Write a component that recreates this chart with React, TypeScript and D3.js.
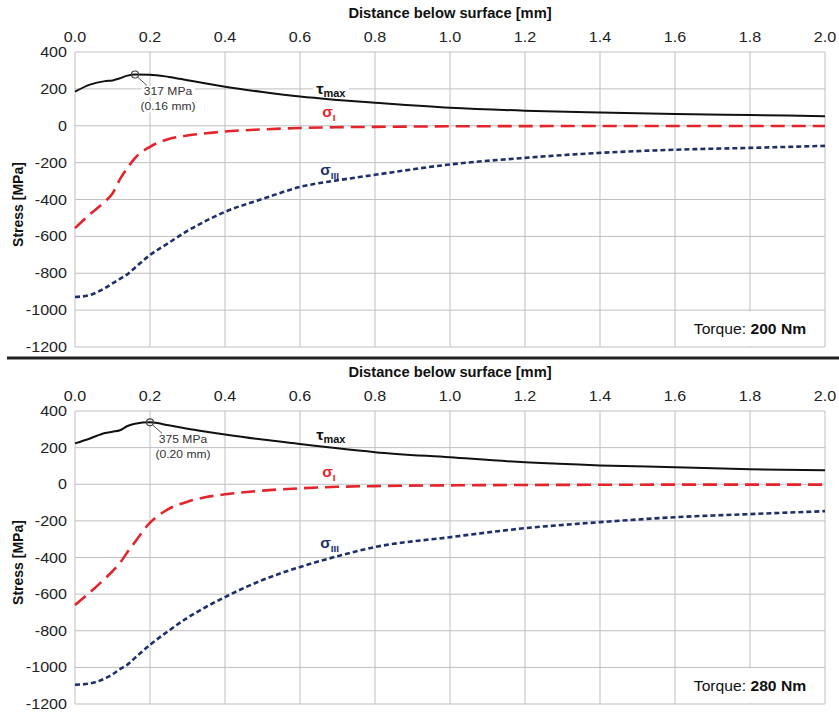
import { useEffect, useRef } from 'react';
import * as d3 from 'd3';

// depth grid [mm] shared by all series
const depth = [0, 0.04, 0.08, 0.1, 0.12, 0.14, 0.16, 0.2, 0.25, 0.3, 0.35, 0.4, 0.5, 0.6, 0.7, 0.8, 1.0, 1.2, 1.4, 1.6, 1.8, 2.0];

// Torque 200 Nm
const tauMax200 = [185, 223, 242, 246, 258, 272, 278, 277, 265, 247, 229, 212, 183, 158, 140, 125, 98, 82, 72, 64, 58, 52];
const sigmaI200 = [-555, -480, -410, -368, -290, -228, -175, -114, -72, -53, -41, -31, -20, -12, -8, -6, -3, -2, -1, -1, -1, -1];
const sigmaIII200 = [-929, -918, -880, -855, -830, -805, -770, -701, -635, -570, -515, -467, -397, -332, -296, -266, -210, -174, -147, -130, -120, -109];

// Torque 280 Nm
const tauMax280 = [223, 250, 280, 287, 295, 318, 330, 338, 322, 303, 287, 272, 244, 220, 196, 175, 147, 120, 103, 93, 82, 76];
const sigmaI280 = [-660, -590, -515, -475, -430, -370, -315, -210, -135, -95, -70, -55, -35, -22, -14, -10, -6, -4, -3, -2, -2, -2];
const sigmaIII280 = [-1095, -1088, -1060, -1038, -1010, -985, -948, -877, -800, -729, -669, -616, -523, -452, -393, -343, -289, -240, -207, -180, -163, -147];

const torques = [200, 280];
const peakLabels = ['317 MPa', '375 MPa'];
const peakDepthLabels = ['(0.16 mm)', '(0.20 mm)'];

const xTicks = [0, 0.2, 0.4, 0.6, 0.8, 1.0, 1.2, 1.4, 1.6, 1.8, 2.0];
const yTicks = [400, 200, 0, -200, -400, -600, -800, -1000, -1200];

const FONT = '"Liberation Sans", Arial, sans-serif';
const W = 839;
const H = 713;

const panels = [
  {
    top: 52, bottom: 347, torque: torques[0], tau: tauMax200, s1: sigmaI200, s3: sigmaIII200,
    peak: peakLabels[0], peakDepth: peakDepthLabels[0],
    labels: { tau: 196, s1: 71, s3: -239 }
  },
  {
    top: 411, bottom: 704, torque: torques[1], tau: tauMax280, s1: sigmaI280, s3: sigmaIII280,
    peak: peakLabels[1], peakDepth: peakDepthLabels[1],
    labels: { tau: 267, s1: 65, s3: -322 }
  }
];

// texte légèrement étiré horizontalement comme dans l'original
function stretchText(parent: any, x: number, y: number, s = 1.15) {
  return parent.append('text')
    .attr('transform', `translate(${x},${y}) scale(${s},1)`)
    .attr('font-family', FONT);
}

// fond blanc derrière un texte (dans le calque du dessous)
function addBg(layer: any, node: any, pad = 1, shrink = 0) {
  const b = node.node().getBBox();
  layer.append('rect')
    .attr('transform', node.attr('transform'))
    .attr('x', b.x - pad).attr('y', b.y + shrink)
    .attr('width', b.width + pad * 2).attr('height', b.height - shrink * 2)
    .attr('fill', '#fff');
}

function drawPanel(svg: any, p: any) {
  const x = d3.scaleLinear().domain([0, 2]).range([75, 825]);
  const y = d3.scaleLinear().domain([-1200, 400]).range([p.bottom, p.top]);
  const g = svg.append('g');
  const gGrid = g.append('g');
  const gBg = g.append('g');
  const gLines = g.append('g');
  const gText = g.append('g');

  // grille
  gGrid.selectAll('.vg').data(xTicks).join('line')
    .attr('x1', (d: number) => x(d)).attr('x2', (d: number) => x(d))
    .attr('y1', p.top).attr('y2', p.bottom)
    .attr('stroke', '#bfbfbf').attr('stroke-width', 1);
  gGrid.selectAll('.hg').data(yTicks).join('line')
    .attr('x1', x(0)).attr('x2', x(2))
    .attr('y1', (d: number) => y(d)).attr('y2', (d: number) => y(d))
    .attr('stroke', '#bfbfbf').attr('stroke-width', 1);

  // ticks
  xTicks.forEach(t => {
    stretchText(gText, x(t), p.top - 10).attr('text-anchor', 'middle')
      .attr('font-size', 14).attr('fill', '#222').text(t.toFixed(1));
  });
  yTicks.forEach(t => {
    stretchText(gText, 67, y(t)).attr('text-anchor', 'end').attr('dy', '0.36em')
      .attr('font-size', 14).attr('fill', '#222').text(String(t));
  });

  // titres
  stretchText(gText, (x(0) + x(2)) / 2, p.top - 34, 1.05).attr('text-anchor', 'middle')
    .attr('font-size', 14).attr('font-weight', 'bold').attr('fill', '#111')
    .text('Distance below surface [mm]');
  gText.append('text')
    .attr('transform', `translate(23,${(p.top + p.bottom) / 2 + 5}) rotate(-90)`)
    .attr('text-anchor', 'middle').attr('font-family', FONT)
    .attr('font-size', 14).attr('font-weight', 'bold').attr('fill', '#111')
    .text('Stress [MPa]');

  // boîte couple
  gBg.append('rect')
    .attr('x', x(1.6) + 1).attr('y', y(-1000) + 1)
    .attr('width', x(2) - x(1.6) - 2).attr('height', y(-1200) - y(-1000) - 2)
    .attr('fill', '#fff');
  const tq = stretchText(gText, (x(1.6) + x(2)) / 2, (y(-1000) + y(-1200)) / 2, 1.12)
    .attr('text-anchor', 'middle').attr('dy', '0.36em').attr('font-size', 14).attr('fill', '#111');
  tq.append('tspan').text('Torque: ');
  tq.append('tspan').attr('font-weight', 'bold').text(`${p.torque} Nm`);

  const line = (vals: number[]) => d3.line<number>()
    .x((_, i) => x(depth[i]))
    .y(d => y(d))
    .curve(d3.curveMonotoneX)(vals);

  gLines.append('path').attr('d', line(p.s3)).attr('fill', 'none')
    .attr('stroke', '#1f2f6b').attr('stroke-width', 2.6).attr('stroke-dasharray', '5,3');
  gLines.append('path').attr('d', line(p.s1)).attr('fill', 'none')
    .attr('stroke', '#e3242b').attr('stroke-width', 2.6).attr('stroke-dasharray', '14,7');
  gLines.append('path').attr('d', line(p.tau)).attr('fill', 'none')
    .attr('stroke', '#111').attr('stroke-width', 2);

  // étiquettes des courbes
  const lx = x(0.675);
  const tl = stretchText(gText, lx - 12, y(p.labels.tau), 1.1).attr('dy', '0.3em')
    .attr('font-weight', 'bold').attr('fill', '#111');
  tl.append('tspan').attr('font-size', 15).text('τ');
  tl.append('tspan').attr('font-size', 10).attr('dy', 3).text('max');
  addBg(gBg, tl, 3, 3);

  const s1 = stretchText(gText, lx - 6, y(p.labels.s1), 1.1).attr('dy', '0.3em')
    .attr('font-weight', 'bold').attr('fill', '#e3242b');
  s1.append('tspan').attr('font-size', 14).text('σ');
  s1.append('tspan').attr('font-size', 9).attr('dy', 4).text('I');

  const s3 = stretchText(gText, lx - 8, y(p.labels.s3), 1.1).attr('dy', '0.3em')
    .attr('font-weight', 'bold').attr('fill', '#1f2f6b');
  s3.append('tspan').attr('font-size', 14).text('σ');
  s3.append('tspan').attr('font-size', 9).attr('dy', 4).text('III');

  // pic de tau max
  const im = d3.maxIndex(p.tau);
  const px = x(depth[im]);
  const py = y(p.tau[im]);
  gText.append('line').attr('x1', px + 3).attr('y1', py + 3).attr('x2', px + 12).attr('y2', py + 11)
    .attr('stroke', '#555').attr('stroke-width', 1);
  const a1 = stretchText(gText, px + 33, py + 17, 1.1).attr('text-anchor', 'middle').attr('dy', '0.36em')
    .attr('font-size', 11).attr('fill', '#333').text(p.peak);
  addBg(gBg, a1, 2);
  const a2 = stretchText(gText, px + 33, py + 32, 1.1).attr('text-anchor', 'middle').attr('dy', '0.36em')
    .attr('font-size', 11).attr('fill', '#333').text(p.peakDepth);
  addBg(gBg, a2, 2);
  gText.append('circle').attr('cx', px).attr('cy', py).attr('r', 3.5)
    .attr('fill', 'none').attr('stroke', '#444').attr('stroke-width', 1.2);
}

export default function App() {
  const ref = useRef<SVGSVGElement>(null);

  useEffect(() => {
    const svg = d3.select(ref.current);
    svg.selectAll('*').remove();
    svg.append('rect').attr('width', W).attr('height', H).attr('fill', '#fff');
    panels.forEach(p => drawPanel(svg, p));
    // séparateur entre les deux graphiques
    svg.append('line').attr('x1', 7).attr('x2', W).attr('y1', 358).attr('y2', 358)
      .attr('stroke', '#222').attr('stroke-width', 3);
  }, []);

  return (
    <svg ref={ref} width={W} height={H}
      style={{ position: 'absolute', left: 0, top: 0, display: 'block' }} />
  );
}
